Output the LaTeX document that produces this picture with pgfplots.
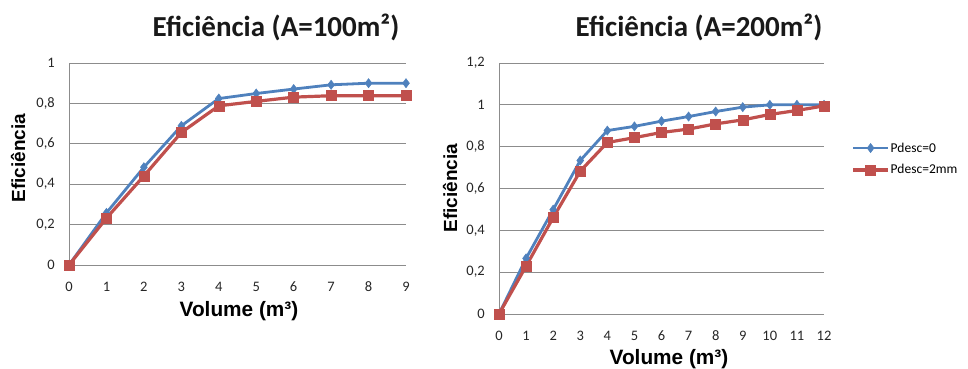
\documentclass[border=0pt]{standalone}
\usepackage{fontspec}
\setmainfont{Carlito}
\newfontfamily\lsans{Liberation Sans}
\usepackage{pgfplots}
\pgfplotsset{compat=1.18}
\definecolor{sblue}{HTML}{4F81BD}
\definecolor{sred}{HTML}{C0504D}
\definecolor{gridc}{HTML}{8C8C8C}
\pgfplotsset{myax/.style={
  scale only axis, anchor=south west,
  axis x line*=bottom, axis y line*=left,
  x axis line style={draw=none},
  y axis line style={draw=gridc,line width=0.9pt,-},
  major tick length=0pt,
  ymajorgrids, grid style={draw=gridc, line width=0.9pt},
  xmin=0, ymin=0,
  tick label style={font=\fontsize{14.5}{16}\selectfont, text=black!85},
  /pgf/number format/assume math mode=true,
  /pgf/number format/use comma,
  yticklabel style={anchor=east, inner sep=0pt, xshift=-14pt},
  xticklabel style={anchor=center, inner sep=0pt, yshift=-22pt},
  clip=false,
  legend image code/.code={\draw[mark repeat=2,mark phase=2,##1] plot coordinates {(0pt,0pt) (17.5pt,0pt) (35pt,0pt)};},
}}
\pgfplotsset{
  sb/.style={color=sblue, line width=2.8pt, mark=diamond*, mark size=4.6pt, mark options={solid, line width=0.5pt, fill=sblue, draw=sblue}},
  sr/.style={color=sred, line width=3.2pt, mark=square*, mark size=5pt, mark options={solid, line width=0.5pt, fill=sred, draw=sred}},
}
\begin{document}
\begin{tikzpicture}
\path[use as bounding box] (0,0) rectangle (968pt,-369pt);
\begin{axis}[myax, at={(69pt,-265pt)}, width=337pt, height=202pt,
  xmax=9, ymax=1, xtick={0,1,...,9}, ytick={0,0.2,0.4,0.6,0.8,1}]
\addplot[sb] coordinates {(0,0)(1,0.258)(2,0.484)(3,0.689)(4,0.824)(5,0.849)(6,0.871)(7,0.892)(8,0.900)(9,0.900)};
\addplot[sr] coordinates {(0,0)(1,0.232)(2,0.441)(3,0.656)(4,0.788)(5,0.810)(6,0.831)(7,0.838)(8,0.838)(9,0.838)};
\end{axis}
\begin{axis}[myax, at={(499pt,-314pt)}, width=325pt, height=251pt,
  xmax=12, ymax=1.2, xtick={0,1,...,12}, ytick={0,0.2,0.4,0.6,0.8,1,1.2},
  legend style={at={(1.084,0.6175)}, anchor=west, draw=none, fill=none, inner sep=0pt,
    font=\fontsize{13.5}{15}\selectfont, row sep=9pt, nodes={inner sep=1pt}},
  legend cell align=left]
\addplot[sb] coordinates {(0,0)(1,0.266)(2,0.499)(3,0.734)(4,0.877)(5,0.897)(6,0.922)(7,0.944)(8,0.968)(9,0.989)(10,1.0)(11,1.0)(12,1.0)};
\addlegendentry{Pdesc=0}
\addplot[sr] coordinates {(0,0)(1,0.229)(2,0.461)(3,0.683)(4,0.820)(5,0.843)(6,0.868)(7,0.884)(8,0.909)(9,0.928)(10,0.954)(11,0.973)(12,0.995)};
\addlegendentry{Pdesc=2mm}
\end{axis}
\node[font=\bfseries\fontsize{29}{32}\selectfont, text=black!90] at (276pt,-27pt) {Eficiência (A=100m²)};
\node[font=\bfseries\fontsize{29}{32}\selectfont, text=black!90] at (699pt,-27pt) {Eficiência (A=200m²)};
\node[font=\lsans\bfseries\fontsize{20.8}{23}\selectfont] at (239pt,-311pt) {Volume (m³)};
\node[font=\lsans\bfseries\fontsize{20.8}{23}\selectfont] at (669pt,-359pt) {Volume (m³)};
\node[rotate=90, font=\lsans\bfseries\fontsize{19}{22}\selectfont] at (18pt,-158pt) {Eficiência};
\node[rotate=90, font=\lsans\bfseries\fontsize{19}{22}\selectfont] at (450pt,-188pt) {Eficiência};
\end{tikzpicture}
\end{document}
